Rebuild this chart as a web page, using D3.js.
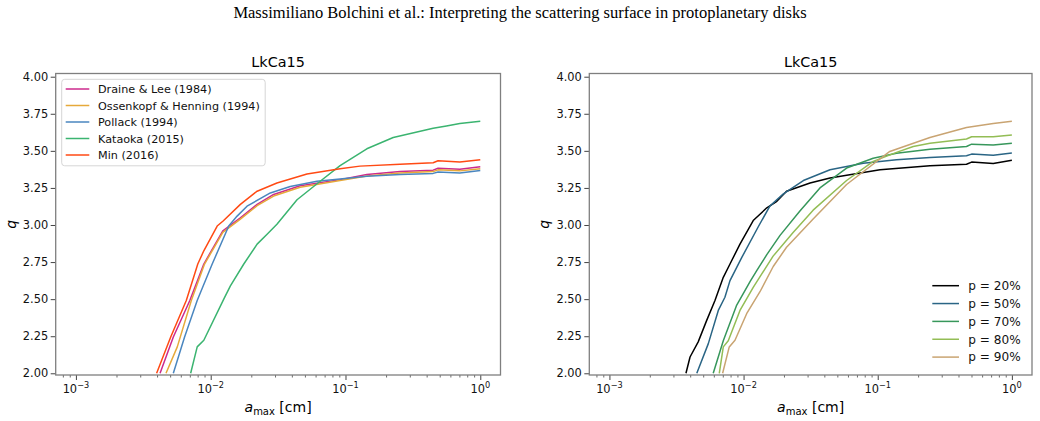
<!DOCTYPE html>
<html><head><meta charset="utf-8">
<script src="https://cdn.jsdelivr.net/npm/d3@7"></script>
<style>body{margin:0;background:#fff}svg{display:block}</style>
</head><body><svg id="c" width="1040" height="421"></svg>
<script>
// ---------- data ----------
const headerText = "Massimiliano Bolchini et al.: Interpreting the scattering surface in protoplanetary disks";
const panelTitles = ["LkCa15", "LkCa15"];
const yTicks = [2.00, 2.25, 2.50, 2.75, 3.00, 3.25, 3.50, 3.75, 4.00];
const xMajorExp = [-3, -2, -1, 0];

// Left panel: optical constants
const leftNames = ["Draine & Lee (1984)", "Ossenkopf & Henning (1994)", "Pollack (1994)", "Kataoka (2015)", "Min (2016)"];
const leftColors = ["#cc2a8d", "#e6a93a", "#4a86bf", "#3bb470", "#ff4a14"];
const draineA = [0.00421, 0.00528, 0.0070, 0.00889, 0.0123, 0.0166, 0.0221, 0.0293, 0.0461, 0.0912, 0.144, 0.254, 0.447, 0.486, 0.705, 1.0];
const draineQ = [2.00, 2.245, 2.491, 2.737, 2.96, 3.049, 3.139, 3.206, 3.265, 3.306, 3.34, 3.36, 3.37, 3.383, 3.376, 3.392];
const ossA = [0.00466, 0.00565, 0.00718, 0.0090, 0.0123, 0.0166, 0.0221, 0.0293, 0.0461, 0.0912, 0.144, 0.254, 0.447, 0.486, 0.705, 1.0];
const ossQ = [2.00, 2.178, 2.491, 2.737, 2.95, 3.04, 3.13, 3.195, 3.255, 3.30, 3.33, 3.35, 3.36, 3.372, 3.365, 3.380];
const pollackA = [0.00528, 0.0064, 0.00794, 0.01026, 0.01361, 0.0157, 0.0186, 0.0277, 0.0389, 0.0614, 0.0912, 0.144, 0.254, 0.447, 0.486, 0.705, 1.0];
const pollackQ = [2.00, 2.245, 2.491, 2.737, 2.993, 3.06, 3.127, 3.216, 3.26, 3.295, 3.31, 3.328, 3.34, 3.348, 3.357, 3.350, 3.368];
const kataokaA = [0.0071, 0.00794, 0.00889, 0.0125, 0.0140, 0.0176, 0.0221, 0.0262, 0.0310, 0.0437, 0.0649, 0.0912, 0.144, 0.226, 0.447, 0.561, 0.705, 1.0];
const kataokaQ = [2.00, 2.178, 2.223, 2.50, 2.59, 2.737, 2.871, 2.938, 3.005, 3.17, 3.295, 3.40, 3.514, 3.59, 3.652, 3.668, 3.685, 3.70];
const minA = [0.00397, 0.00505, 0.00659, 0.00802, 0.00889, 0.01117, 0.01236, 0.0166, 0.0221, 0.0310, 0.0518, 0.0912, 0.128, 0.254, 0.447, 0.486, 0.705, 1.0];
const minQ = [2.00, 2.245, 2.491, 2.737, 2.826, 2.993, 3.027, 3.139, 3.228, 3.283, 3.344, 3.38, 3.397, 3.41, 3.42, 3.433, 3.425, 3.44];

// Right panel: porosity
const rightNames = ["p = 20%", "p = 50%", "p = 70%", "p = 80%", "p = 90%"];
const rightColors = ["#000000", "#2a6585", "#37975b", "#93bd55", "#c9a472"];
const p20A = [0.00372, 0.00399, 0.00459, 0.00531, 0.00612, 0.00706, 0.00792, 0.0094, 0.0118, 0.0149, 0.0177, 0.0209, 0.0313, 0.0441, 0.104, 0.245, 0.459, 0.501, 0.726, 1.0];
const p20Q = [2.00, 2.11, 2.212, 2.357, 2.491, 2.647, 2.737, 2.871, 3.03, 3.116, 3.16, 3.228, 3.283, 3.317, 3.373, 3.40, 3.41, 3.424, 3.415, 3.437];
const p50A = [0.00448, 0.00546, 0.00648, 0.00726, 0.00792, 0.00968, 0.0129, 0.0157, 0.0198, 0.0279, 0.0441, 0.078, 0.138, 0.245, 0.459, 0.501, 0.726, 1.0];
const p50Q = [2.00, 2.20, 2.424, 2.513, 2.625, 2.78, 2.99, 3.127, 3.21, 3.30, 3.373, 3.417, 3.44, 3.455, 3.467, 3.478, 3.470, 3.485];
const p70A = [0.00594, 0.00706, 0.00889, 0.0112, 0.0125, 0.0149, 0.0187, 0.0263, 0.0371, 0.0586, 0.0925, 0.138, 0.245, 0.459, 0.501, 0.726, 1.0];
const p70Q = [2.00, 2.22, 2.46, 2.62, 2.69, 2.80, 2.93, 3.094, 3.25, 3.384, 3.45, 3.484, 3.511, 3.529, 3.545, 3.540, 3.552];
const p80A = [0.00659, 0.00706, 0.00769, 0.0094, 0.0118, 0.0166, 0.0234, 0.033, 0.0586, 0.0925, 0.138, 0.184, 0.245, 0.459, 0.501, 0.726, 1.0];
const p80Q = [2.00, 2.178, 2.22, 2.424, 2.58, 2.79, 2.95, 3.10, 3.30, 3.429, 3.49, 3.529, 3.551, 3.580, 3.595, 3.595, 3.607];
const p90A = [0.00698, 0.00782, 0.00863, 0.01054, 0.01325, 0.01663, 0.0209, 0.033, 0.0586, 0.123, 0.245, 0.459, 0.726, 1.0];
const p90Q = [2.00, 2.178, 2.223, 2.402, 2.55, 2.72, 2.85, 3.04, 3.273, 3.496, 3.59, 3.657, 3.685, 3.70];

// ---------- build series ----------
const zip = (a, q) => a.map((v, i) => ({a: v, q: q[i]}));
const leftSeries = [[draineA, draineQ], [ossA, ossQ], [pollackA, pollackQ], [kataokaA, kataokaQ], [minA, minQ]]
  .map((d, i) => ({name: leftNames[i], color: leftColors[i], values: zip(d[0], d[1])}));
const rightSeries = [[p20A, p20Q], [p50A, p50Q], [p70A, p70Q], [p80A, p80Q], [p90A, p90Q]]
  .map((d, i) => ({name: rightNames[i], color: rightColors[i], values: zip(d[0], d[1])}));

// ---------- drawing ----------
const svg = d3.select('#c');
const FONT = "'DejaVu Sans', sans-serif";
svg.append('rect').attr('width', 1040).attr('height', 421).attr('fill', '#fff');
svg.append('text').attr('x', 520).attr('y', 17.5).attr('text-anchor', 'middle')
  .attr('font-family', "'Liberation Serif', 'Times New Roman', serif")
  .style('font-size', '16.5px')
  .attr('fill', '#000').text(headerText);

const Y0 = 73.5, Y1 = 375;

function panel(idx, x0, x1, series, legend) {
  const x = d3.scaleLog().domain([Math.pow(10, -3.15), Math.pow(10, 0.15)]).range([x0, x1]);
  const y = d3.scaleLinear().domain([1.9885, 4.0216]).range([Y1, Y0]);
  const g = svg.append('g');
  const clipId = 'clip' + idx;
  svg.append('clipPath').attr('id', clipId).append('rect')
    .attr('x', x0).attr('y', Y0).attr('width', x1 - x0).attr('height', Y1 - Y0);

  const line = d3.line().x(d => x(d.a)).y(d => y(d.q));
  g.append('g').attr('clip-path', `url(#${clipId})`).selectAll('path').data(series).join('path')
    .attr('d', d => line(d.values)).attr('fill', 'none').attr('stroke', d => d.color)
    .attr('stroke-width', 1.5).attr('stroke-linejoin', 'round').attr('stroke-linecap', 'butt');

  // y axis
  const ya = g.append('g').attr('transform', `translate(${x0},0)`)
    .call(d3.axisLeft(y).tickValues(yTicks).tickFormat(d3.format('.2f')).tickSize(5).tickPadding(2.5));
  ya.select('.domain').remove();
  ya.selectAll('line').attr('stroke', '#444').attr('stroke-width', 1);
  ya.selectAll('text').attr('font-family', FONT).attr('font-size', 11.4).attr('fill', '#111');

  // x axis: major and minor ticks
  const majors = xMajorExp.map(e => Math.pow(10, e));
  const [dmin, dmax] = x.domain();
  const minors = [];
  for (let e = -4; e <= 0; e++) for (let m = 2; m <= 9; m++) {
    const v = m * Math.pow(10, e);
    if (v >= dmin && v <= dmax) minors.push(v);
  }
  const xaMin = g.append('g').attr('transform', `translate(0,${Y1})`)
    .call(d3.axisBottom(x).tickValues(minors).tickFormat('').tickSize(2.5));
  xaMin.select('.domain').remove();
  xaMin.selectAll('line').attr('stroke', '#444').attr('stroke-width', 0.8);
  const xaMaj = g.append('g').attr('transform', `translate(0,${Y1})`)
    .call(d3.axisBottom(x).tickValues(majors).tickFormat('').tickSize(5));
  xaMaj.select('.domain').remove();
  xaMaj.selectAll('line').attr('stroke', '#444').attr('stroke-width', 1);
  const lbl = g.append('g').selectAll('text').data(xMajorExp).join('text')
    .attr('x', e => x(Math.pow(10, e))).attr('y', 393.3).attr('text-anchor', 'middle')
    .attr('font-family', FONT).attr('font-size', 11.4).attr('fill', '#111');
  lbl.append('tspan').text('10');
  lbl.append('tspan').attr('dy', -5).attr('font-size', 8.2).text(e => e < 0 ? '\u2212' + (-e) : String(e));

  // frame
  g.append('rect').attr('x', x0).attr('y', Y0).attr('width', x1 - x0).attr('height', Y1 - Y0)
    .attr('fill', 'none').attr('stroke', '#7f7f7f').attr('stroke-width', 1.3);

  // title
  g.append('text').attr('x', (x0 + x1) / 2).attr('y', 67).attr('text-anchor', 'middle')
    .attr('font-family', FONT).attr('font-size', 14.4).attr('fill', '#000').text(panelTitles[idx]);

  // axis labels
  g.append('text').attr('transform', `translate(${x0 - 40},${(Y0 + Y1) / 2}) rotate(-90)`)
    .attr('text-anchor', 'middle').attr('font-family', FONT).attr('font-size', 14)
    .attr('font-style', 'italic').attr('fill', '#000').text('q');
  const xl = g.append('text').attr('x', (x0 + x1) / 2).attr('y', 412).attr('text-anchor', 'middle')
    .attr('font-family', FONT).attr('font-size', 14).attr('fill', '#000');
  xl.append('tspan').attr('font-style', 'italic').text('a');
  xl.append('tspan').attr('font-size', 10).attr('dy', 3).text('max');
  xl.append('tspan').attr('dy', -3).text(' [cm]');

  // legend
  const lg = g.append('g');
  if (legend.frame) {
    lg.append('rect').attr('x', legend.bx).attr('y', legend.by).attr('width', legend.bw).attr('height', legend.bh)
      .attr('rx', 3).attr('fill', '#fff').attr('fill-opacity', 0.85).attr('stroke', '#d6d6d6').attr('stroke-width', 1);
  }
  series.forEach((s, i) => {
    const cy = legend.y0 + i * legend.dy;
    lg.append('line').attr('x1', legend.lx0).attr('x2', legend.lx1).attr('y1', cy).attr('y2', cy)
      .attr('stroke', s.color).attr('stroke-width', 1.5);
    lg.append('text').attr('x', legend.tx).attr('y', cy).attr('dy', '0.36em')
      .attr('font-family', FONT).attr('font-size', legend.fs).attr('fill', '#111').text(s.name);
  });
}

panel(0, 55.7, 500.5, leftSeries, {frame: true, bx: 61.7, by: 79.3, bw: 203.5, bh: 86.5,
  y0: 89, dy: 16.5, lx0: 65.7, lx1: 89.3, tx: 98, fs: 11.2});
panel(1, 589.3, 1032, rightSeries, {frame: false,
  y0: 285.7, dy: 17.85, lx0: 932.3, lx1: 959, tx: 968.3, fs: 12.1});
</script>
</body></html>
